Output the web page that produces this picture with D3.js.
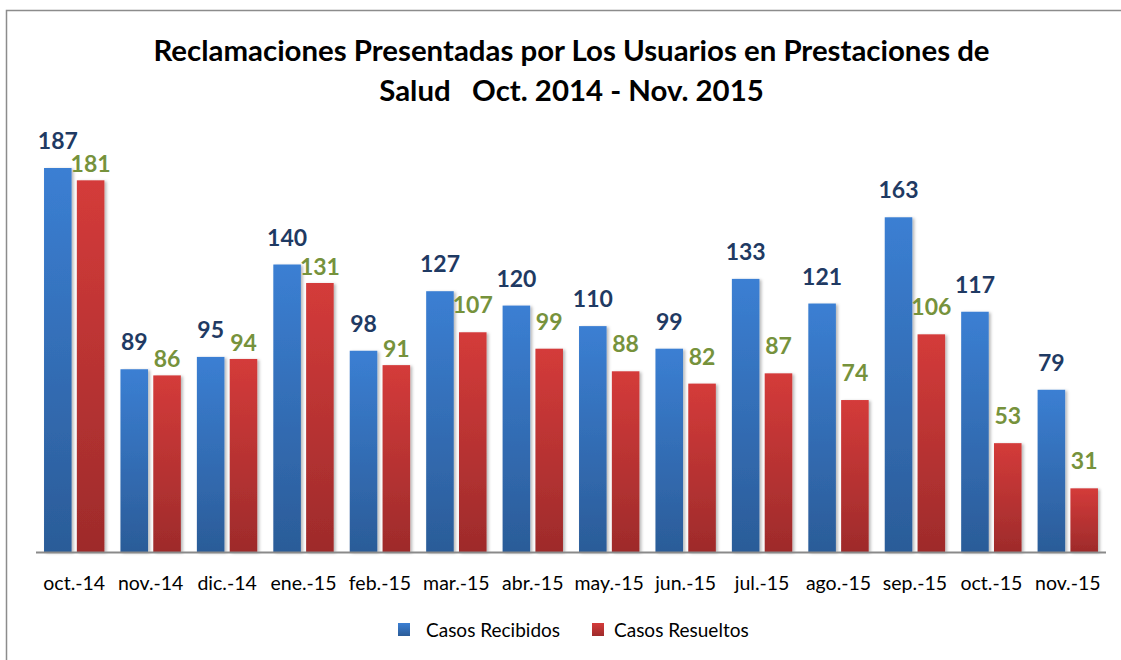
<!DOCTYPE html>
<html><head><meta charset="utf-8">
<script src="https://cdn.jsdelivr.net/npm/d3@7"></script>
<style>
html,body{margin:0;padding:0;background:#fff;}
svg{display:block;}
text{font-family:Lato, "Open Sans", sans-serif;}
</style></head>
<body>
<svg id="chart" width="1121" height="660"></svg>
<script>
const categories = ["oct.-14","nov.-14","dic.-14","ene.-15","feb.-15","mar.-15","abr.-15","may.-15","jun.-15","jul.-15","ago.-15","sep.-15","oct.-15","nov.-15"];
const recibidos = [187,89,95,140,98,127,120,110,99,133,121,163,117,79];
const resueltos = [181,86,94,131,91,107,99,88,82,87,74,106,53,31];
const seriesNames = ["Casos Recibidos","Casos Resueltos"];
const titleLines = ["Reclamaciones Presentadas por Los Usuarios en Prestaciones de","Salud   Oct. 2014 - Nov. 2015"];

const svg = d3.select("#chart");
const W = 1121, H = 660;
const defs = svg.append("defs");

function grad(id, top, bottom){
  const g = defs.append("linearGradient").attr("id", id).attr("x1",0).attr("y1",0).attr("x2",0).attr("y2",1);
  g.append("stop").attr("offset","0%").attr("stop-color",top);
  g.append("stop").attr("offset","100%").attr("stop-color",bottom);
}
grad("gBlue","#3B7FD3","#2B5C98");
grad("gRed","#D43B3A","#9E2B2B");
const f = defs.append("filter").attr("id","shadow").attr("x","-20%").attr("y","-10%").attr("width","150%").attr("height","130%");
f.append("feDropShadow").attr("dx",2).attr("dy",1).attr("stdDeviation",1.8).attr("flood-color","#000").attr("flood-opacity",0.28);

// outer border
svg.append("rect").attr("x",6.5).attr("y",10.5).attr("width",W+20).attr("height",H+20)
  .attr("fill","none").attr("stroke","#8c8c8c").attr("stroke-width",1.5);

const margin = {left:36, right:15, top:0};
const baseY = 552;
const x0 = d3.scaleBand().domain(categories).range([margin.left, W - margin.right]).paddingInner(0.21).paddingOuter(0.105);
const x1 = d3.scaleBand().domain(seriesNames).range([0, x0.bandwidth()]).paddingInner(0.16);
const y = d3.scaleLinear().domain([0,187]).range([baseY, 168]);

// title
const title = svg.append("text").attr("x",571.5).attr("text-anchor","middle")
  .attr("font-weight","bold").attr("font-size",29.4).attr("fill","#000").style("white-space","pre");
titleLines.forEach((t,i)=>{
  title.append("tspan").attr("x",571.5).attr("y", i===0?61:101).text(t);
});

const data = categories.map((c,i)=>({c, vals:[recibidos[i], resueltos[i]]}));
const fills = ["url(#gBlue)","url(#gRed)"];
const labelColors = ["#1F3A63","#76923C"];

const groups = svg.append("g").selectAll("g").data(data).join("g")
  .attr("transform", d=>`translate(${x0(d.c)},0)`);
groups.selectAll("rect").data(d=>d.vals.map((v,k)=>({v,k}))).join("rect")
  .attr("x", d=>x1(seriesNames[d.k]))
  .attr("y", d=>y(d.v))
  .attr("width", x1.bandwidth())
  .attr("height", d=>baseY - y(d.v))
  .attr("fill", d=>fills[d.k])
  .attr("filter","url(#shadow)");

// axis line
svg.append("line").attr("x1",margin.left).attr("x2",W-margin.right).attr("y1",baseY+0.5).attr("y2",baseY+0.5)
  .attr("stroke","#8a8a8a").attr("stroke-width",2);

// value labels
const labelOffset = 19;
groups.each(function(d){
  const g = d3.select(this);
  const blueY = y(d.vals[0]) - labelOffset;
  d.vals.forEach((v,k)=>{
    let ly = y(v) - labelOffset;
    if(k===1 && Math.abs(ly - blueY) < 24 && v < d.vals[0]) ly = y(v) - 8;
    g.append("text").attr("x", x1(seriesNames[k]) + x1.bandwidth()/2).attr("y", ly)
      .attr("text-anchor","middle").attr("font-weight","bold").attr("font-size",23)
      .attr("fill", labelColors[k]).text(v);
  });
});

// x axis labels
const xAxis = d3.axisBottom(x0).tickSize(0).tickPadding(0);
const ax = svg.append("g").attr("transform",`translate(0,${baseY})`).call(xAxis);
ax.select(".domain").remove();
ax.selectAll("text").attr("font-size",19.5).attr("fill","#000").attr("dy",0).attr("y",38)
  .style("font-family","Lato, sans-serif");

// legend
const legend = svg.append("g");
const legX = [398, 592];
const legTX = [426, 614];
seriesNames.forEach((n,k)=>{
  legend.append("rect").attr("x",legX[k]).attr("y",623).attr("width",12).attr("height",13).attr("fill",fills[k]);
  legend.append("text").attr("x",legTX[k]).attr("y",637).attr("font-size",19).attr("fill","#000").text(n);
});
</script>
</body></html>
